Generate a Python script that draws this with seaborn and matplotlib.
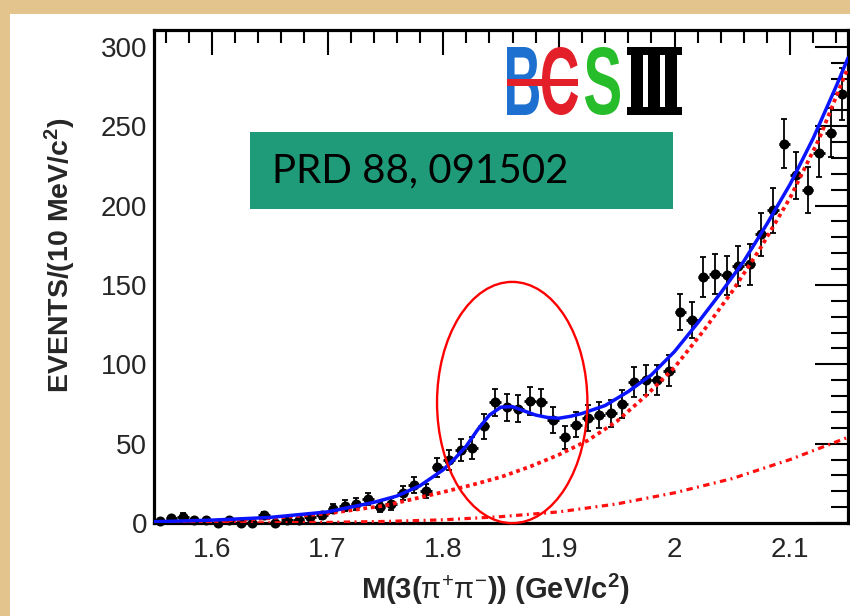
import numpy as np
import pandas as pd
import seaborn as sns
import matplotlib
matplotlib.use("Agg")
import matplotlib.pyplot as plt
from matplotlib.patches import Rectangle, Ellipse, PathPatch
from matplotlib.textpath import TextPath
from matplotlib.font_manager import FontProperties
from matplotlib.transforms import Affine2D, IdentityTransform
from matplotlib.ticker import MultipleLocator, FuncFormatter

# ---------------- data ----------------
mass = [1.555, 1.565, 1.575, 1.585, 1.595, 1.605, 1.615, 1.625, 1.635, 1.645,
        1.655, 1.665, 1.675, 1.685, 1.695, 1.705, 1.715, 1.725, 1.735, 1.745,
        1.755, 1.765, 1.775, 1.785, 1.795, 1.805, 1.815, 1.825, 1.835, 1.845,
        1.855, 1.865, 1.875, 1.885, 1.895, 1.905, 1.915, 1.925, 1.935, 1.945,
        1.955, 1.965, 1.975, 1.985, 1.995, 2.005, 2.015, 2.025, 2.035, 2.045,
        2.055, 2.065, 2.075, 2.085, 2.095, 2.105, 2.115, 2.125, 2.135, 2.145]
events = [1, 3, 4, 2, 2, 0, 2, 0, 0, 5,
          0, 2, 2, 4, 5, 9, 11, 12, 15, 10,
          12, 19, 24, 20, 35, 40, 46, 47, 61, 76,
          73, 72, 77, 76, 65, 54, 62, 66, 68, 69,
          75, 89, 90, 90, 96, 133, 128, 155, 157, 156,
          162, 163, 182, 197, 239, 219, 210, 233, 246, 270]
errors = [1.0, 1.7, 2.0, 1.4, 1.4, 0.0, 1.4, 0.0, 0.0, 2.2,
          0.0, 1.4, 1.4, 2.0, 2.2, 3.0, 3.3, 3.5, 3.9, 3.2,
          3.5, 4.4, 4.9, 4.5, 5.9, 6.3, 6.8, 6.9, 7.8, 8.7,
          8.5, 8.5, 8.8, 8.7, 8.1, 7.3, 7.9, 8.1, 8.2, 8.3,
          8.7, 9.4, 9.5, 9.5, 9.8, 11.5, 11.3, 12.4, 12.5, 12.5,
          12.7, 12.8, 13.5, 14.0, 15.5, 14.8, 14.5, 15.3, 15.7, 16.4]
half_bin = 0.005

fit_x = [1.55, 1.60, 1.65, 1.70, 1.72, 1.74, 1.76, 1.78, 1.80, 1.81, 1.82,
         1.83, 1.84, 1.85, 1.86, 1.87, 1.88, 1.89, 1.90, 1.91, 1.92, 1.93,
         1.94, 1.96, 1.98, 2.00, 2.02, 2.04, 2.06, 2.08, 2.10, 2.12, 2.14, 2.15]
fit_total = [0.8, 1.8, 3.5, 7.0, 10.0, 13.0, 17.0, 23.5, 33.5, 40.5, 48.5,
             59.0, 68.0, 73.0, 73.3, 70.6, 68.0, 66.5, 66.0, 67.2, 69.0, 71.5,
             74.0, 82.8, 93.3, 108.0, 126.0, 145.0, 165.0, 188.5, 213.5, 242.5, 275.5, 293.0]

bkg_x = [1.55, 1.60, 1.65, 1.70, 1.75, 1.80, 1.825, 1.85, 1.875, 1.90, 1.925,
         1.95, 1.975, 2.00, 2.025, 2.05, 2.075, 2.10, 2.125, 2.15]
bkg_total = [0.3, 1.2, 3.0, 6.0, 11.0, 19.5, 24.0, 29.0, 35.5, 43.0, 52.0,
             64.0, 80.0, 98.0, 121.0, 146.0, 174.0, 205.0, 242.0, 287.0]

comp_x = [1.55, 1.65, 1.70, 1.75, 1.80, 1.85, 1.90, 1.95, 2.00, 2.05, 2.10, 2.125, 2.15]
bkg_comp = [0.0, 0.1, 0.4, 1.0, 2.0, 4.0, 7.0, 12.0, 19.0, 28.0, 40.0, 47.0, 54.0]

x_ticks = [1.6, 1.7, 1.8, 1.9, 2.0, 2.1]
y_ticks = [0, 50, 100, 150, 200, 250, 300]

# highlight ellipse (data units)
ell_center = (1.8597, 75.9)
ell_width = 0.130
ell_height = 152.0

ref_text = "PRD 88, 091502"

# ---------------- style ----------------
sns.set_theme(style="white")
plt.rcParams["font.family"] = ["Liberation Sans", "DejaVu Sans"]
plt.rcParams["mathtext.fontset"] = "custom"
plt.rcParams["mathtext.rm"] = "Liberation Sans"
plt.rcParams["mathtext.bf"] = "Liberation Sans:bold"
plt.rcParams["mathtext.it"] = "Liberation Sans:italic"
plt.rcParams["mathtext.default"] = "regular"

W, H = 850, 616
fig = plt.figure(figsize=(W / 100, H / 100), dpi=100)
fig.patch.set_facecolor("#e3c48c")
fig.add_artist(Rectangle((10 / W, 0), 1, 602 / H, transform=fig.transFigure,
                         fc="white", ec="none", zorder=-5))

ax = fig.add_axes([154 / W, 93 / H, 694 / W, 493 / H])
ax.set_facecolor("white")

df = pd.DataFrame({"mass": mass, "events": events, "err": errors})

# data points
ax.errorbar(df["mass"], df["events"], yerr=df["err"], fmt="none", ecolor="black",
            elinewidth=1.3, capsize=2.5, capthick=1.3, zorder=3, clip_on=False)
ax.errorbar(df["mass"], df["events"], xerr=half_bin, fmt="none", ecolor="black",
            elinewidth=2.0, capsize=0, zorder=3, clip_on=False)
sns.scatterplot(data=df, x="mass", y="events", ax=ax, color="black", s=52,
                marker="o", linewidth=0, zorder=4, clip_on=False, legend=False)

# fit curves
sns.lineplot(x=bkg_x, y=bkg_total, ax=ax, color="#ff1010", linewidth=2.7,
             linestyle=(0, (1.0, 1.0)), zorder=5)
sns.lineplot(x=comp_x, y=bkg_comp, ax=ax, color="#ff1010", linewidth=2.3,
             linestyle=(0, (2.0, 1.4, 0.6, 1.4)), zorder=5)
sns.lineplot(x=fit_x, y=fit_total, ax=ax, color="#0a14ff", linewidth=2.5, zorder=6)

ax.add_patch(Ellipse(ell_center, ell_width, ell_height, fill=False,
                     ec="#ff0000", lw=1.7, zorder=7, clip_on=False))

# axes
ax.set_xlim(1.55, 2.15)
ax.set_ylim(0, 310.6)
ax.set_xticks(x_ticks)
ax.set_yticks(y_ticks)
ax.xaxis.set_minor_locator(MultipleLocator(0.02))
ax.yaxis.set_minor_locator(MultipleLocator(10))
ax.xaxis.set_major_formatter(FuncFormatter(lambda v, p: f"{v:g}"))
ax.tick_params(which="both", direction="in", top=True, right=True,
               width=1.5, color="black")
ax.tick_params(axis="y", which="major", length=24, labelsize=20, pad=5)
ax.tick_params(axis="y", which="minor", length=12)
ax.tick_params(axis="x", which="major", length=18, labelsize=20, pad=10)
ax.tick_params(axis="x", which="minor", length=9)
for s in ax.spines.values():
    s.set_linewidth(2.3)
    s.set_color("black")

ax.set_xlabel(r"$\mathbf{M(3(}\pi^{+}\pi^{-}\mathbf{))\ (GeV/c^{2})}$", fontsize=21)
ax.xaxis.set_label_coords(0.491, -0.098)
ax.set_ylabel(r"$\mathbf{EVENTS/(10\ MeV/c^{2})}$", fontsize=20.5)
ax.yaxis.set_label_coords(-0.11, 0.544)

# reference box
fig.add_artist(Rectangle((250 / W, (H - 209) / H), 423 / W, 77 / H,
                         transform=fig.transFigure, fc="#1f9b7a", ec="none", zorder=10))
fig.text(272 / W, (H - 182) / H, ref_text, fontsize=29, family="Lato",
         color="black", ha="left", va="baseline", zorder=11)

# BESIII logo
def glyph(ch, color, x0, x1, y0_img, y1_img):
    tp = TextPath((0, 0), ch, size=100,
                  prop=FontProperties(family="Liberation Sans", weight="bold"))
    bb = tp.get_extents()
    sx = (x1 - x0) / bb.width
    sy = (y1_img - y0_img) / bb.height
    tr = Affine2D().translate(-bb.x0, -bb.y0).scale(sx, sy).translate(x0, H - y1_img)
    fig.add_artist(PathPatch(tr.transform_path(tp), fc=color, ec="none",
                             transform=IdentityTransform(), zorder=12))

def bar(x0, x1, y0_img, y1_img, color):
    fig.add_artist(Rectangle((x0, H - y1_img), x1 - x0, y1_img - y0_img, fc=color,
                             ec="none", transform=IdentityTransform(), zorder=13))

glyph("B", "#1d6fd0", 507, 539, 47, 115)
glyph("C", "#e3202a", 542, 578, 47, 115)
bar(507, 578, 79, 86, "#e3202a")
glyph("S", "#27bd2a", 585, 620, 47, 115)
bar(627, 682, 47, 55, "black")
bar(627, 682, 107, 115, "black")
bar(631, 643, 47, 115, "black")
bar(648, 660, 47, 115, "black")
bar(665, 677, 47, 115, "black")

fig.savefig("out.png", dpi=100, facecolor=fig.get_facecolor())
